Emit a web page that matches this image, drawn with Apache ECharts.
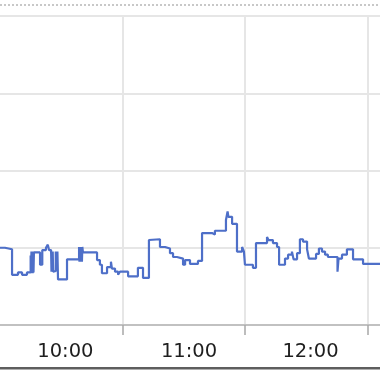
<!DOCTYPE html>
<html>
<head>
<meta charset="utf-8">
<script src="https://cdn.jsdelivr.net/npm/echarts@6/dist/echarts.min.js"></script>
<style>
html,body{margin:0;padding:0;background:#fff;}
#chart{width:380px;height:372px;}
</style>
</head>
<body>
<div id="chart"></div>
<script>
// minutes from left edge of the visible window
const minutes = [0,2.4,5.9,8.8,10.8,13.2,
  15.0,15.2,15.4,15.6,15.8,16.0,16.2,16.4,16.6,
  19.6,20.7,22.5,23.4,24.0,
  25.0,25.2,25.4,25.6,25.8,26.0,26.3,
  27.3,27.5,27.7,27.9,28.1,
  28.4,32.8,
  38.7,38.9,39.1,39.3,39.5,39.7,39.9,40.1,40.3,40.6,
  47.5,48.9,49.9,52.4,54.3,54.8,56.3,57.8,58.7,62.7,67.5,70.0,72.9,73.4,78.3,80.8,83.2,84.7,86.6,89.6,90.6,93.0,96.9,98.9,103.8,105.2,110.6,111.4,111.8,113.6,116.0,118.5,119.4,119.9,123.8,125.3,130.7,131.4,133.6,135.6,136.6,139.5,141.0,142.9,143.7,145.4,146.8,148.3,150.3,151.2,154.7,156.1,157.6,159.1,160.5,165.2,165.7,167.4,169.8,172.8,177.7,186];
const values = [1.00,0.98,0.65,0.68,0.65,0.68,
  0.90,0.67,0.95,0.67,0.95,0.67,0.95,0.68,0.94,
  0.78,0.97,1.00,1.04,0.97,
  0.95,0.69,0.95,0.69,0.95,0.69,0.70,
  0.95,0.71,0.95,0.71,0.95,
  0.59,0.85,
  1.01,0.82,1.01,0.82,1.01,0.82,1.01,0.82,1.01,0.94,
  0.84,0.78,0.67,0.75,0.82,0.73,0.69,0.65,0.69,0.63,0.74,0.61,1.10,1.11,1.01,0.99,0.93,0.88,0.86,0.78,0.84,0.79,0.83,1.19,1.17,1.22,1.36,1.47,1.40,1.31,0.95,1.01,0.95,0.78,0.74,1.06,1.14,1.10,1.06,1.01,0.78,0.86,0.91,0.95,0.85,0.93,1.11,1.08,0.98,0.86,0.92,0.99,0.95,0.91,0.88,0.69,0.86,0.91,0.98,0.85,0.79,0.79];
const hourLabels = ['10:00','11:00','12:00'];
const labelPositions = [32, 92.5, 152];

const chart = echarts.init(document.getElementById('chart'));
chart.setOption({
  animation: false,
  grid: { left: 0, right: 0, top: 16, bottom: 47, containLabel: false },
  xAxis: {
    type: 'value', min: 0, max: 186, interval: 60,
    axisLine: { show: true, lineStyle: { color: '#b4b4b4', width: 1.5 } },
    axisTick: { show: true, length: 10, customValues: [60, 120, 180], lineStyle: { color: '#a8a8a8', width: 1.5 } },
    splitLine: { show: true, lineStyle: { color: '#e6e6e6', width: 2 } },
    axisLabel: {
      customValues: labelPositions,
      formatter: function (v) { const i = labelPositions.indexOf(v); return i >= 0 ? hourLabels[i] : ''; },
      fontFamily: 'DejaVu Sans', fontSize: 19.5, color: '#1e1e1e', margin: 17
    }
  },
  yAxis: {
    type: 'value', min: 0, max: 4, interval: 1,
    axisLine: { show: false }, axisTick: { show: false }, axisLabel: { show: false },
    splitLine: { show: true, lineStyle: { color: '#e6e6e6', width: 2 } }
  },
  series: [{
    type: 'line', step: 'end', showSymbol: false,
    data: minutes.map((m, i) => [m, values[i]]),
    lineStyle: { color: '#4e6fc8', width: 2.2 }
  }],
  graphic: [
    { type: 'line', shape: { x1: 0, y1: 5, x2: 380, y2: 5 }, style: { stroke: '#c8c8c8', lineWidth: 2, lineDash: [2, 2] } },
    { type: 'rect', shape: { x: 0, y: 367, width: 380, height: 2.5 }, style: { fill: '#5e5e5e' } }
  ]
});
</script>
</body>
</html>
